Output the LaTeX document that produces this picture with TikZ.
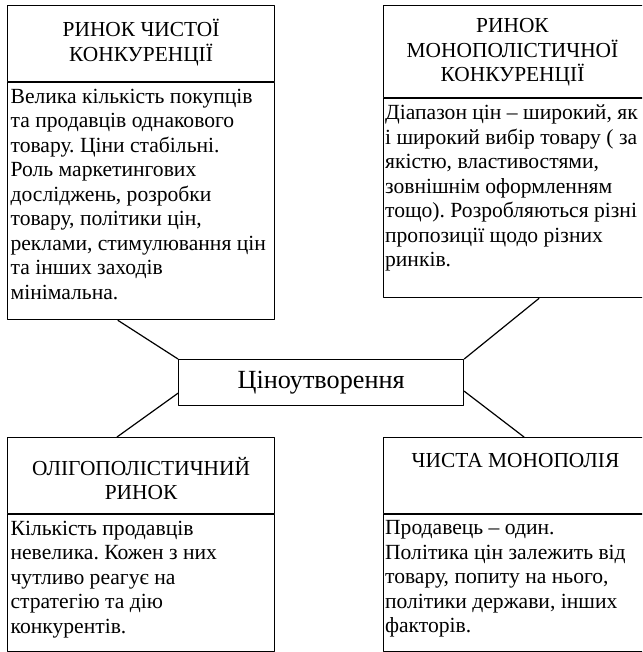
\documentclass[tikz,border=0pt]{standalone}
\usepackage{fontspec}
\setmainfont{Liberation Serif}
\usetikzlibrary{calc}
\frenchspacing

\begin{document}
\begin{tikzpicture}[x=1pt,y=-1pt, line join=round, line cap=round, line width=1.2pt,
	box/.style={draw, rectangle, anchor=north west, inner sep=0pt, minimum width=267pt},
	txt/.style={anchor=north west, inner sep=0pt, align=left, execute at begin node=\strut,
		font=\fontsize{21.6}{24.5}\selectfont},
	ttl/.style={anchor=north, inner sep=0pt, align=center, execute at begin node=\strut,
		font=\fontsize{21.4}{24.3}\selectfont}]
		\def\xl{7} \def\xr{383}
		\useasboundingbox (0,0) rectangle (642,652);
		\clip (0,0) rectangle (642,652);
		% чотири ринки
		\node[box, minimum height=76pt] (hdA) at (\xl,5) {};
		\node[box, minimum height=237pt] (bdA) at (hdA.south west) {};
		\node[box, minimum height=92pt] (hdB) at (\xr,5) {};
		\node[box, minimum height=199pt] (bdB) at (hdB.south west) {};
		\node[box, minimum height=76pt] (hdC) at (\xl,437) {};
		\node[box, minimum height=137pt] (bdC) at (hdC.south west) {};
		\node[box, minimum height=76pt] (hdD) at (\xr,437) {};
		\node[box, minimum height=137pt] (bdD) at (hdD.south west) {};
		% центр
		\node[draw, rectangle, anchor=north west, minimum width=285pt, minimum height=46pt, inner sep=0pt,
			font=\fontsize{26.2}{30}\selectfont] (mid) at (178,359) {Ціноутворення};
		% заголовки
		\node[ttl] (tA) at ($(hdA.north)+(0,14)$) {РИНОК ЧИСТОЇ\\КОНКУРЕНЦІЇ};
		\node[ttl] (tB) at ($(hdB.north west)+(129.5,13)$) {РИНОК\\МОНОПОЛІСТИЧНОЇ\\КОНКУРЕНЦІЇ};
		\node[ttl] (tC) at ($(hdC.north)+(0,19.5)$) {ОЛІГОПОЛІСТИЧНИЙ\\РИНОК};
		\node[ttl] (tD) at ($(hdD.north west)+(132.5,12.5)$) {ЧИСТА МОНОПОЛІЯ};
		% тексти
		\node[txt] (xA) at ($(bdA.north west)+(3,6)$) {Велика кількість покупців\\та продавців однакового\\товару. Ціни стабільні.\\Роль маркетингових\\досліджень, розробки\\товару, політики цін,\\реклами, стимулювання цін\\та інших заходів\\мінімальна.};
		\node[txt] (xB) at ($(bdB.north west)+(1.5,6)$) {Діапазон цін -- широкий, як\\і широкий вибір товару ( за\\якістю, властивостями,\\зовнішнім оформленням\\тощо). Розробляються різні\\пропозиції щодо різних\\ринків.};
		\node[txt] (xC) at ($(bdC.north west)+(3,6)$) {Кількість продавців\\невелика. Кожен з них\\чутливо реагує на\\стратегію та дію\\конкурентів.};
		\node[txt] (xD) at ($(bdD.north west)+(1.5,6)$) {Продавець -- один.\\Політика цін залежить від\\товару, попиту на нього,\\політики держави, інших\\факторів.};
		% зв'язки
		\draw ($(bdA.south west)+(111,0)$) -- (mid.north west);
		\draw ($(bdB.south west)+(156,0)$) -- (mid.north east);
		\draw ($(mid.south west)+(0,-13)$) -- ($(hdC.north west)+(110,0)$);
		\draw ($(mid.south east)+(0,-15)$) -- ($(hdD.north west)+(141,0)$);
\end{tikzpicture}
\end{document}
